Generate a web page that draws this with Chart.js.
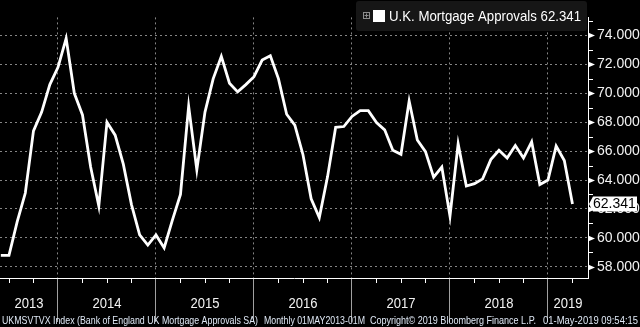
<!DOCTYPE html>
<html>
<head>
<meta charset="utf-8">
<script src="https://cdn.jsdelivr.net/npm/chart.js@4.4.1/dist/chart.umd.min.js"></script>
<style>
  html, body { margin: 0; padding: 0; background: #000; }
  #wrap { width: 640px; height: 327px; position: relative; }
</style>
</head>
<body>
<div id="wrap"><canvas id="chart"></canvas></div>
<script>
// months are counted from 1 Jan 2013; monthly points sit at month end
const firstPoint = 5; // end of May 2013
const years = ['2013', '2014', '2015', '2016', '2017', '2018', '2019'];
const yTicks = [58, 60, 62, 64, 66, 68, 70, 72, 74];
const seriesName = 'U.K. Mortgage Approvals';
const approvals = [
    58.78, 58.78, 61.1, 63.1, 67.4, 68.7, 70.6, 71.8, 73.8, 70.0, 68.5, 64.9,
    62.2, 68.0, 67.1, 65.1, 62.3, 60.2, 59.5, 60.2, 59.3, 61.2, 63.0, 69.1,
    64.7, 68.7, 71.0, 72.55, 70.7, 70.1, 70.6, 71.15, 72.3, 72.6, 71.0, 68.55,
    67.8, 65.75, 62.7, 61.4, 64.2, 67.65, 67.7, 68.4, 68.8, 68.8, 67.97, 67.47,
    66.06, 65.78, 69.46, 66.77, 65.96, 64.2, 64.9, 61.5, 66.5, 63.58, 63.75, 64.08,
    65.41, 66.06, 65.52, 66.38, 65.52, 66.64, 63.69, 64.0, 66.35, 65.35, 62.341
];
const footerParts = [
    ['UKMSVTVX Index (Bank of England UK Mortgage Approvals SA)', 2, 256],
    ['Monthly 01MAY2013-01M', 264, 101],
    ['Copyright\u00A9 2019 Bloomberg Finance L.P.', 370, 166],
    ['01-May-2019 09:54:15', 543, 95]
];

const points = approvals.map((v, i) => ({ x: firstPoint + i, y: v }));
const lastValue = approvals[approvals.length - 1];
const font = '"Liberation Sans", Arial, sans-serif';

const decorations = {
    id: 'decorations',
    afterDraw(chart) {
        const { ctx, chartArea: { right, bottom }, scales: { x, y } } = chart;
        ctx.save();

        // y axis: arrow markers at labelled ticks, short minor ticks between
        ctx.fillStyle = '#fff';
        ctx.strokeStyle = '#fff';
        ctx.lineWidth = 1;
        yTicks.forEach(v => {
            const py = Math.round(y.getPixelForValue(v)) + 0.5;
            ctx.beginPath();
            ctx.moveTo(right, py - 3);
            ctx.lineTo(right + 7, py);
            ctx.lineTo(right, py + 3);
            ctx.closePath();
            ctx.fill();
            const m = Math.round(y.getPixelForValue(v + 1)) + 0.5;
            if (v + 1 < y.max) {
                ctx.beginPath();
                ctx.moveTo(right, m);
                ctx.lineTo(right + 5, m);
                ctx.stroke();
            }
        });

        // x axis: quarterly minor ticks
        for (let t = 3; t < x.max; t += 3) {
            if (t % 12 === 0 || t < x.min) continue;
            const px = Math.round(x.getPixelForValue(t)) + 0.5;
            ctx.beginPath();
            ctx.moveTo(px, bottom);
            ctx.lineTo(px, bottom + 5);
            ctx.stroke();
        }

        // year labels centred in their span
        ctx.font = '14px ' + font;
        ctx.textAlign = 'center';
        ctx.textBaseline = 'middle';
        ctx.fillStyle = '#f2f2f2';
        years.forEach((yr, i) => {
            const a = Math.max(x.min, i * 12);
            const b = Math.min(x.max, (i + 1) * 12);
            const cx = (x.getPixelForValue(a) + x.getPixelForValue(b)) / 2;
            ctx.fillText(yr, cx, 304, 29);
        });

        // footer
        ctx.font = '11px ' + font;
        ctx.textAlign = 'left';
        ctx.textBaseline = 'alphabetic';
        ctx.fillStyle = '#dfe8f5';
        footerParts.forEach(([txt, px, w]) => ctx.fillText(txt, px, 324, w));

        // legend box
        ctx.fillStyle = '#161616';
        ctx.beginPath();
        ctx.roundRect(356, 1, 231, 30, 3);
        ctx.fill();
        ctx.strokeStyle = '#8c8c8c';
        ctx.strokeRect(363.5, 12.5, 6, 6);
        ctx.beginPath();
        ctx.moveTo(366.5, 13.5); ctx.lineTo(366.5, 17.5);
        ctx.moveTo(364.5, 15.5); ctx.lineTo(368.5, 15.5);
        ctx.stroke();
        ctx.fillStyle = '#fff';
        ctx.fillRect(373, 10, 12, 12);
        ctx.font = '14.5px ' + font;
        ctx.textBaseline = 'middle';
        ctx.fillText(seriesName + ' ' + lastValue.toFixed(3), 389, 16.5, 192);

        // last value tag on the right axis
        const ly = y.getPixelForValue(lastValue);
        ctx.fillStyle = '#fff';
        ctx.beginPath();
        ctx.moveTo(right + 1, ly);
        ctx.lineTo(right + 5, ly - 7.5);
        ctx.lineTo(637, ly - 7.5);
        ctx.lineTo(637, ly + 7.5);
        ctx.lineTo(right + 5, ly + 7.5);
        ctx.closePath();
        ctx.fill();
        ctx.fillStyle = '#000';
        ctx.font = '14px ' + font;
        ctx.fillText(lastValue.toFixed(3), 593, ly + 0.5, 43);

        ctx.restore();
    }
};

new Chart(document.getElementById('chart'), {
    type: 'line',
    data: {
        datasets: [{
            label: seriesName,
            data: points,
            borderColor: '#ffffff',
            borderWidth: 2.8,
            pointRadius: 0,
            tension: 0,
            fill: false
        }]
    },
    options: {
        responsive: true,
        maintainAspectRatio: false,
        animation: false,
        layout: { padding: 0 },
        plugins: {
            legend: { display: false },
            tooltip: { enabled: false }
        },
        scales: {
            x: {
                type: 'linear',
                position: 'bottom',
                min: 4.9,
                max: 76.9,
                afterBuildTicks: s => { s.ticks = [12, 24, 36, 48, 60, 72].map(v => ({ value: v })); },
                afterFit: s => { s.height = 49; },
                ticks: { display: false },
                grid: {
                    color: '#858585',
                    lineWidth: 1,
                    drawTicks: true,
                    tickLength: 44,
                    tickColor: '#a0a0a0',
                    tickBorderDash: []
                },
                border: { display: true, color: '#ffffff', width: 1, dash: [2, 3] }
            },
            y: {
                position: 'right',
                min: 57.22,
                max: 75.25,
                afterBuildTicks: s => { s.ticks = yTicks.map(v => ({ value: v })); },
                afterFit: s => { s.width = 52; },
                ticks: {
                    color: '#f2f2f2',
                    padding: 9,
                    font: { family: font, size: 14 },
                    callback: v => v.toFixed(3)
                },
                grid: { color: '#858585', lineWidth: 1, drawTicks: false },
                border: { display: true, color: '#ffffff', width: 1, dash: [2, 3] }
            }
        }
    },
    plugins: [decorations]
});
</script>
</body>
</html>
